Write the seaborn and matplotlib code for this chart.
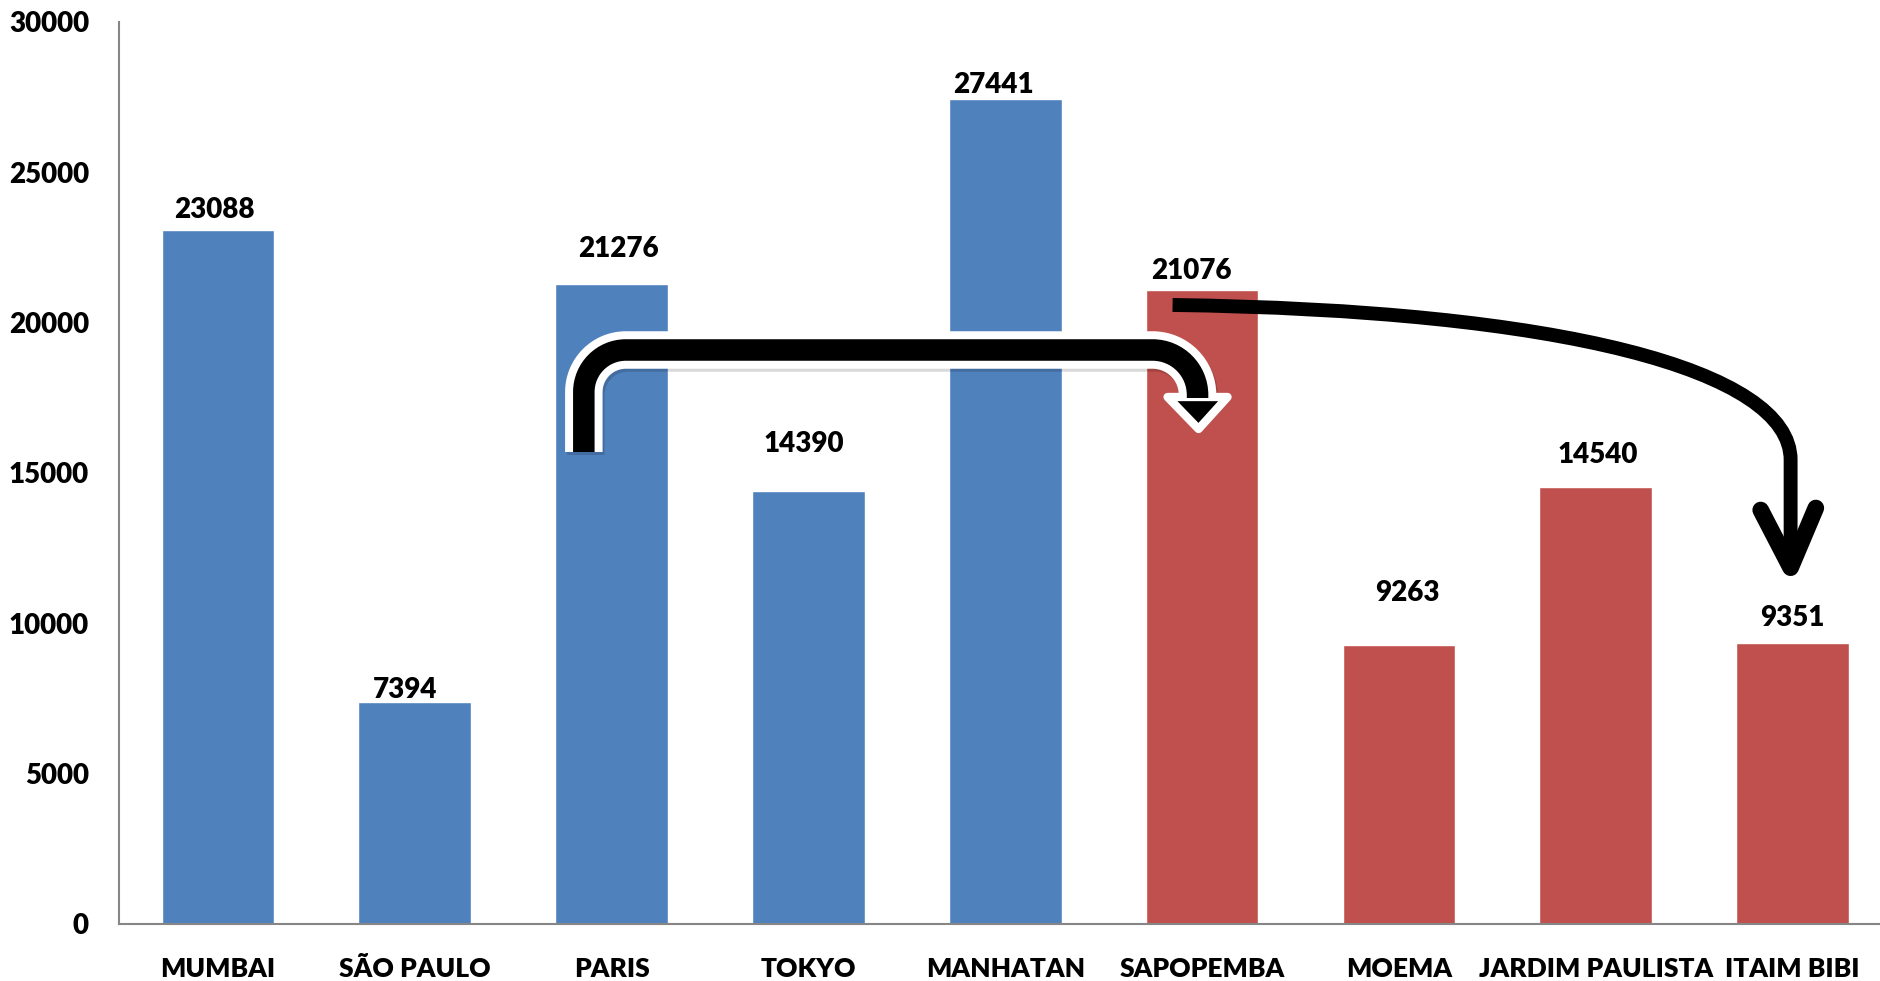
import matplotlib
matplotlib.use("Agg")
import matplotlib.pyplot as plt
from matplotlib.path import Path
from matplotlib.patches import PathPatch, Polygon
import seaborn as sns
import pandas as pd

# ---------------- data ----------------
categories = ["MUMBAI", "SÃO PAULO", "PARIS", "TOKYO", "MANHATAN",
              "SAPOPEMBA", "MOEMA", "JARDIM PAULISTA", "ITAIM BIBI"]
values = [23088, 7394, 21276, 14390, 27441, 21076, 9263, 14540, 9351]
groups = ["world"] * 5 + ["sp"] * 4
yticks = [0, 5000, 10000, 15000, 20000, 25000, 30000]

# label offsets (pixels) relative to bar top centre
label_dx = [-4, -10, 7, -5, -12, -11, 8, 2, 0]
label_dy = [20, 12, 35, 47, 14, 19, 52, 32, 25]

BLUE = "#4F81BD"
RED = "#C0504D"
palette = {"world": BLUE, "sp": RED}

sns.set_theme(style="white")
plt.rcParams["font.family"] = ["Lato", "DejaVu Sans"]
WEIGHT = "heavy"
plt.rcParams["font.weight"] = WEIGHT

W, H = 1881, 981
fig = plt.figure(figsize=(W / 100, H / 100), dpi=100)
x0, x1 = 119.5, 1891.0
y0, y1 = 924.0, 22.0
ax = fig.add_axes([x0 / W, 1 - y0 / H, (x1 - x0) / W, (y0 - y1) / H])

df = pd.DataFrame({"cat": categories, "val": values, "grp": groups})
sns.barplot(data=df, x="cat", y="val", hue="grp", palette=palette,
            width=0.573, saturation=1, legend=False, dodge=False, ax=ax)

ax.set_xlim(-0.5, len(categories) - 0.5)
ax.set_ylim(0, 30000)
ax.set_yticks(yticks)
ax.set_yticklabels([str(t) for t in yticks])
ax.set_xlabel("")
ax.set_ylabel("")
ax.tick_params(axis="both", length=0)
ax.tick_params(axis="y", pad=22, labelsize=20)
ax.tick_params(axis="x", pad=24, labelsize=19)
for lab in ax.get_xticklabels() + ax.get_yticklabels():
    lab.set_fontweight(WEIGHT)
    lab.set_color("black")

for s in ["top", "right"]:
    ax.spines[s].set_visible(False)
for s in ["left", "bottom"]:
    ax.spines[s].set_color("#868686")
    ax.spines[s].set_linewidth(1.5)

for i, (v, dx, dy) in enumerate(zip(values, label_dx, label_dy)):
    ax.annotate(str(v), xy=(i, v), xytext=(dx, dy), textcoords="offset pixels",
                ha="center", va="center", fontsize=20, fontweight=WEIGHT,
                color="black", annotation_clip=False)

# ---------------- arrows ----------------
k = 0.5523
px_x = 1 / 196.9          # one pixel in category units
px_y = 30000 / 902        # one pixel in value units

# Bent (U-turn) arrow from PARIS to SAPOPEMBA
iA, iB = 2, 5
xl = iA - 0.141
xr = iB - 0.023
ybot = 15699
ytop = 19091
r1, r2 = 42, 45
verts = [
    (xl, ybot),
    (xl, ytop - r1 * px_y),
    (xl, ytop - r1 * px_y + k * r1 * px_y),
    (xl + r1 * px_x - k * r1 * px_x, ytop),
    (xl + r1 * px_x, ytop),
    (xr - r2 * px_x, ytop),
    (xr - r2 * px_x + k * r2 * px_x, ytop),
    (xr, ytop - r2 * px_y + k * r2 * px_y),
    (xr, ytop - r2 * px_y),
    (xr, ytop - 48 * px_y),
]
codes = [Path.MOVETO, Path.LINETO, Path.CURVE4, Path.CURVE4, Path.CURVE4,
         Path.LINETO, Path.CURVE4, Path.CURVE4, Path.CURVE4, Path.LINETO]
bent = Path(verts, codes)

shadow = PathPatch(bent, fill=False, lw=27, edgecolor="#000000", alpha=0.15,
                   capstyle="butt", joinstyle="round", zorder=5,
                   transform=ax.transData + matplotlib.transforms.ScaledTranslation(2 / 100, -3 / 100, fig.dpi_scale_trans))
ax.add_patch(shadow)
outline = PathPatch(bent, fill=False, lw=27, edgecolor="white",
                    capstyle="butt", joinstyle="round", zorder=6)
ax.add_patch(outline)
yb = ytop - 48 * px_y
head = Polygon([(xr - 30 * px_x, yb + 1 * px_y), (xr + 30 * px_x, yb + 1 * px_y),
                (xr + 1 * px_x, yb - 31 * px_y)],
               closed=True, facecolor="black", edgecolor="white", lw=6,
               joinstyle="round", zorder=7)
ax.add_patch(head)
inner = PathPatch(bent, fill=False, lw=15.5, edgecolor="black",
                  capstyle="butt", joinstyle="round", zorder=8)
ax.add_patch(inner)

# Curved arrow from SAPOPEMBA to ITAIM BIBI
iC, iD = 5, 8
xt = iD - 0.01
cverts = [
    (iC - 0.150, 20588),
    (iC + 1.816, 20421),
    (xt, 18426),
    (xt, 15432),
    (xt, 12200),
]
ccodes = [Path.MOVETO, Path.CURVE4, Path.CURVE4, Path.CURVE4, Path.LINETO]
curve = PathPatch(Path(cverts, ccodes), fill=False, lw=10, edgecolor="black",
                  capstyle="butt", joinstyle="round", zorder=8)
ax.add_patch(curve)
ax.plot([xt - 0.152, xt, xt + 0.128], [13769, 11850, 13836], color="black",
        lw=12, solid_capstyle="round", solid_joinstyle="round", zorder=8)

fig.savefig("out.png", dpi=100)
